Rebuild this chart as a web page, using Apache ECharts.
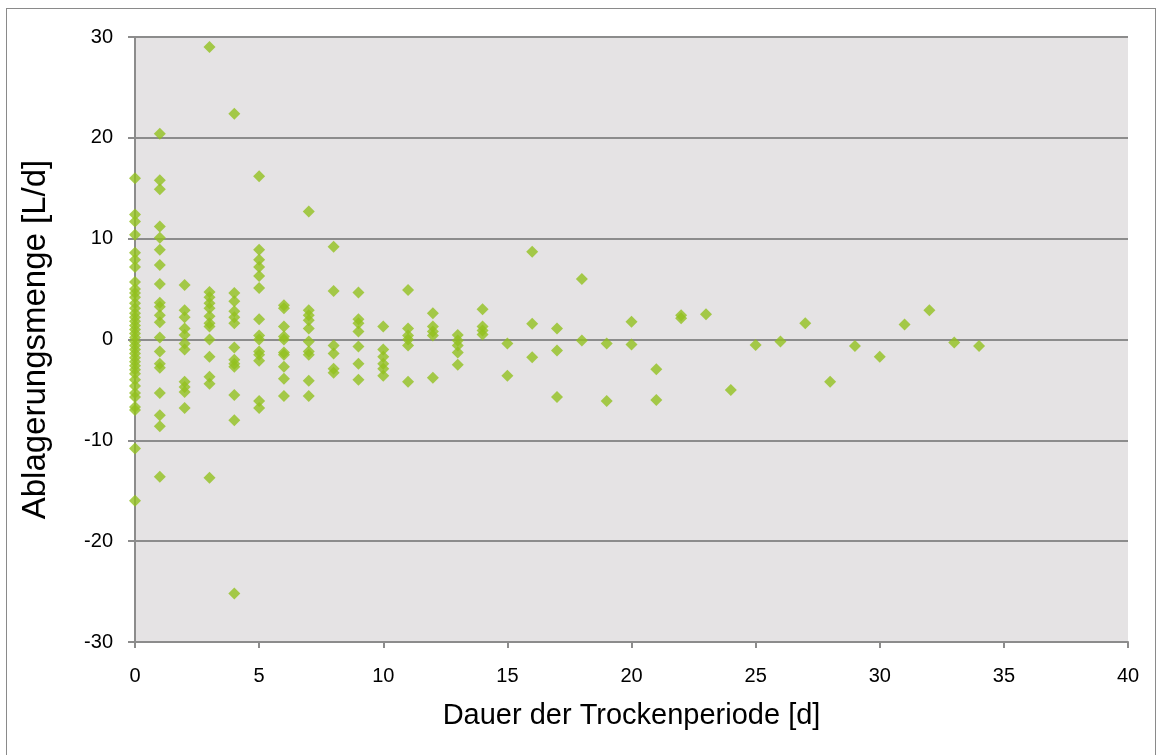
<!DOCTYPE html>
<html>
<head>
<meta charset="utf-8">
<script src="https://cdn.jsdelivr.net/npm/echarts@6/dist/echarts.min.js"></script>
<style>
  html, body { margin: 0; padding: 0; background: #ffffff; }
  .frame {
    position: absolute;
    left: 6px;
    top: 8px;
    width: 1150px;
    height: 800px;
    border: 1px solid #8a8a8a;
    box-sizing: border-box;
  }
  #chart { position: absolute; left: 0; top: 0; width: 1163px; height: 755px; }
</style>
</head>
<body>
<div class="frame"></div>
<div id="chart"></div>
<script>
// Dauer der Trockenperiode [d] -> Ablagerungsmenge [L/d], je Tag eine Liste
const d0 = [16.0, 12.4, 11.7, 10.4, 8.6, 7.9, 7.2, 5.7, 5.0, 4.6, 4.2, 3.6, 3.1, 2.6, 2.2, 1.8, 1.4, 1.0, 0.6, 0.2,
  -0.2, -0.6, -1.0, -1.4, -1.8, -2.2, -2.6, -3.0, -3.4, -4.0, -4.6, -5.3, -5.7, -6.7, -7.0, -10.8, -16.0];
const d1 = [20.4, 15.8, 14.9, 11.2, 10.1, 8.9, 7.4, 5.5, 3.65, 3.25, 2.4, 1.7, 0.2, -1.2, -2.4, -2.8, -5.3, -7.5, -8.6, -13.6];
const d2 = [5.4, 2.9, 2.2, 1.1, 0.45, -0.4, -1.0, -4.2, -4.7, -5.2, -6.8];
const d3 = [29.0, 4.7, 4.2, 3.6, 3.1, 2.3, 1.6, 1.3, 0.0, -1.7, -3.7, -4.4, -13.7];
const d4 = [22.4, 4.6, 3.8, 2.8, 2.2, 1.6, -0.8, -2.0, -2.4, -2.7, -5.5, -8.0, -25.2];
const d5 = [16.2, 8.9, 7.9, 7.2, 6.3, 5.1, 2.0, 0.4, 0.0, -1.2, -1.5, -2.1, -6.1, -6.8];
const d6 = [3.4, 3.1, 1.3, 0.3, 0.0, -1.3, -1.5, -2.7, -3.9, -5.6];
const d7 = [12.7, 2.9, 2.4, 1.9, 1.1, -0.2, -1.2, -1.5, -4.1, -5.6];
const d8 = [9.2, 4.8, -0.6, -1.4, -2.9, -3.3];
const d9 = [4.65, 2.0, 1.6, 0.8, -0.7, -2.4, -4.0];
const d10 = [1.3, -1.0, -1.7, -2.4, -2.9, -3.6];
const d11 = [4.9, 1.1, 0.4, 0.0, -0.6, -4.2];
const d12 = [2.6, 1.3, 0.8, 0.4, -3.8];
const d13 = [0.45, -0.1, -0.6, -1.3, -2.5];
const d14 = [3.0, 1.3, 0.9, 0.5];
// ab 15 Tagen: [Tag, Wert]
const spaet = [[15, -0.4], [15, -3.6], [16, 8.7], [16, 1.55], [16, -1.75], [17, 1.1], [17, -1.1], [17, -5.7],
  [18, 6.0], [18, -0.1], [19, -0.4], [19, -6.1], [20, 1.75], [20, -0.5], [21, -2.95], [21, -6.0],
  [22, 2.4], [22, 2.1], [23, 2.5], [24, -5.0], [25, -0.55], [26, -0.2], [27, 1.6], [28, -4.2],
  [29, -0.65], [30, -1.7], [31, 1.5], [32, 2.9], [33, -0.3], [34, -0.65]];

const xTicks = [0, 5, 10, 15, 20, 25, 30, 35, 40];
const yTicks = [-30, -20, -10, 0, 10, 20, 30];

let punkte = [];
[d0, d1, d2, d3, d4, d5, d6, d7, d8, d9, d10, d11, d12, d13, d14].forEach(function (liste, tag) {
  liste.forEach(function (v) { punkte.push([tag, v]); });
});
punkte = punkte.concat(spaet);

const grau = '#8c8c8c';
const schrift = '"Liberation Sans", Arial, sans-serif';

let myChart = echarts.init(document.getElementById('chart'), null, { renderer: 'canvas' });
myChart.setOption({
  animation: false,
  backgroundColor: 'transparent',
  grid: {
    left: 135,
    right: 35,
    top: 37,
    bottom: 113,
    show: true,
    backgroundColor: '#e5e3e4',
    borderWidth: 0
  },
  xAxis: {
    type: 'value',
    min: xTicks[0],
    max: xTicks[xTicks.length - 1],
    interval: 5,
    name: 'Dauer der Trockenperiode [d]',
    nameLocation: 'middle',
    nameGap: 59,
    nameTextStyle: { fontFamily: schrift, fontSize: 29, color: '#000' },
    axisLine: { onZero: false, lineStyle: { color: grau, width: 2 } },
    axisTick: { show: true, length: 6, lineStyle: { color: grau, width: 2 } },
    axisLabel: { fontFamily: schrift, fontSize: 20, color: '#000', margin: 24 },
    splitLine: { show: false }
  },
  yAxis: {
    type: 'value',
    min: yTicks[0],
    max: yTicks[yTicks.length - 1],
    interval: 10,
    name: 'Ablagerungsmenge [L/d]',
    nameLocation: 'middle',
    nameGap: 83,
    nameTextStyle: { fontFamily: schrift, fontSize: 33, color: '#000' },
    axisLine: { show: true, onZero: false, lineStyle: { color: grau, width: 2 } },
    axisTick: { show: true, length: 7, lineStyle: { color: grau, width: 2 } },
    axisLabel: { fontFamily: schrift, fontSize: 20, color: '#000', margin: 22 },
    splitLine: { show: true, lineStyle: { color: grau, width: 2 } }
  },
  series: [{
    type: 'scatter',
    data: punkte,
    symbol: 'diamond',
    symbolSize: 12,
    itemStyle: { color: '#92c01f' }
  }]
});
</script>
</body>
</html>
